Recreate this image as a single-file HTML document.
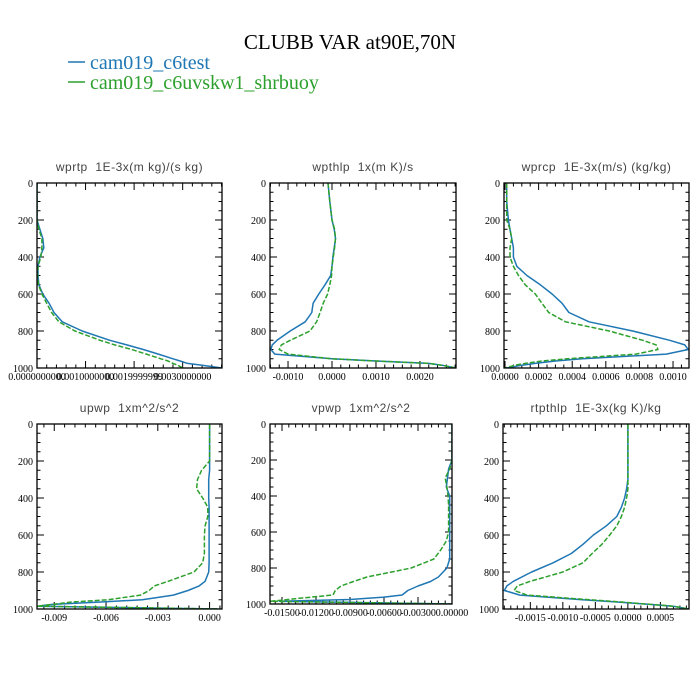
<!DOCTYPE html>
<html><head><meta charset="utf-8"><style>
body{margin:0;background:#fff}
svg{display:block}
.pt{font-family:"Liberation Sans",sans-serif;font-size:12px;fill:#444;letter-spacing:0.5px;white-space:pre}
.tl{font-family:"Liberation Serif",serif;font-size:10px;fill:#000}
</style></head><body>
<svg id="chart" width="700" height="700" viewBox="0 0 700 700" xmlns="http://www.w3.org/2000/svg">
<text x="350" y="49" text-anchor="middle" font-family="Liberation Serif,serif" font-size="21">CLUBB VAR at90E,70N</text>
<g>
<line x1="68" y1="62" x2="85" y2="62" stroke="#1f77b4" stroke-width="1.5"/>
<text x="90" y="69" font-family="Liberation Serif,serif" font-size="20" fill="#1f77b4">cam019_c6test</text>
<line x1="68" y1="82" x2="85" y2="82" stroke="#2ca02c" stroke-width="1.5"/>
<text x="90" y="89" font-family="Liberation Serif,serif" font-size="20" fill="#2ca02c">cam019_c6uvskw1_shrbuoy</text>
</g>
</svg>
<script>
const levels=[0,100,200,250,300,350,400,450,500,550,600,650,700,750,800,850,875,900,925,950,962,975,985,1000];
const wprtpBlue=[0,0,0,.06,.12,.14,.06,.02,.02,.04,.12,.25,.35,.52,.93,1.5,1.85,2.19,2.5,2.8,2.95,3.1,3.4,3.81];
const wprtpGreen=[0,0,0,.04,.10,.10,.08,.02,.01,.03,.10,.20,.30,.45,.78,1.3,1.6,1.95,2.25,2.55,2.7,2.8,2.9,3.0];
const wpthlpBlue=[-.09,-.05,0,.05,.08,.05,.02,0,-.03,-.16,-.3,-.43,-.46,-.61,-.95,-1.25,-1.36,-1.39,-1.3,0,1.0,2.2,2.5,2.82];
const wpthlpGreen=[-.09,-.05,0,.06,.08,.06,.03,0,-.01,-.05,-.1,-.2,-.27,-.35,-.5,-.95,-1.15,-1.2,-1.0,0,1.0,2.2,2.5,2.82];
const wprcpBlue=[.01,.01,.02,.03,.04,.05,.05,.07,.13,.21,.28,.34,.38,.5,.76,.98,1.07,1.09,.96,.46,.3,.18,.1,.01];
const wprcpGreen=[.01,.01,.01,.03,.04,.03,.03,.05,.08,.12,.18,.22,.26,.36,.62,.82,.9,.91,.78,.37,.22,.12,.06,0];
const upwpBlue=[0,0,0,0,-.05,-.05,-.05,-.03,-.03,-.03,-.03,-.03,-.03,-.03,-.05,-.26,-.6,-1.25,-2.1,-3.9,-6.3,-9.1,-10,.5];
const upwpGreen=[0,0,0,-.46,-.7,-.75,-.4,-.1,-.1,-.26,-.3,-.3,-.3,-.4,-.9,-2.4,-3.2,-3.5,-4.0,-5.9,-8.0,-9.1,-10,.7];
const vpwpBlue=[0,0,0,-.3,-.4,-.5,-.2,-.2,-.2,-.2,-.2,-.2,-.2,-.2,-.45,-1.2,-1.9,-3.0,-3.9,-4.4,-6.1,-9,-15.2,0];
const vpwpGreen=[0,0,0,-.2,-.6,-.45,-.35,-.3,-.3,-.3,-.3,-.5,-1.0,-1.6,-3.6,-7.5,-8.7,-9.8,-10.3,-10.5,-12.5,-14.5,-16,0];
const rtpthlpBlue=[0,0,0,0,0,-.02,-.05,-.1,-.17,-.33,-.53,-.69,-.87,-1.15,-1.48,-1.76,-1.86,-1.9,-1.66,-.7,-.17,.34,.7,.94];
const rtpthlpGreen=[0,0,0,0,0,0,-.02,-.05,-.1,-.17,-.28,-.4,-.55,-.69,-1.0,-1.5,-1.7,-1.75,-1.55,-.58,-.1,.35,.7,.94];
const yTicks=[0,200,400,600,800,1000];
const p1Ticks=[0,1,2,3], p1Labels=["0.0000000000","0.0010000000","0.0019999999","0.0030000000"];
const p2Ticks=[-1,0,1,2], p2Labels=["-0.0010","0.0000","0.0010","0.0020"];
const p3Ticks=[0,.2,.4,.6,.8,1.0], p3Labels=["0.0000","0.0002","0.0004","0.0006","0.0008","0.0010"];
const p4Ticks=[-9,-6,-3,0], p4Labels=["-0.009","-0.006","-0.003","0.000"];
const p5Ticks=[-15,-12,-9,-6,-3,0], p5Labels=["-0.01500","-0.01200","-0.00900","-0.00600","-0.00300","0.00000"];
const p6Ticks=[-1.5,-1,-.5,0,.5], p6Labels=["-0.0015","-0.0010","-0.0005","0.0000","0.0005"];

const panels=[
 {name:"wprtp",title:"wprtp  1E-3x(m kg)/(s kg)",x:37,y:183,w:185,h:185,xmin:0,xmax:3.81,minor:.2,ticks:p1Ticks,labels:p1Labels,blue:wprtpBlue,green:wprtpGreen},
 {name:"wpthlp",title:"wpthlp  1x(m K)/s",x:270,y:183,w:186,h:185,xmin:-1.41,xmax:2.82,minor:.2,ticks:p2Ticks,labels:p2Labels,blue:wpthlpBlue,green:wpthlpGreen},
 {name:"wprcp",title:"wprcp  1E-3x(m/s) (kg/kg)",x:504,y:183,w:185,h:185,xmin:-0.006,xmax:1.095,minor:.05,ticks:p3Ticks,labels:p3Labels,blue:wprcpBlue,green:wprcpGreen},
 {name:"upwp",title:"upwp  1xm^2/s^2",x:37,y:424,w:185,h:185,xmin:-10.0,xmax:0.72,minor:.6,ticks:p4Ticks,labels:p4Labels,blue:upwpBlue,green:upwpGreen},
 {name:"vpwp",title:"vpwp  1xm^2/s^2",x:270,y:424,w:182,h:180,xmin:-16.06,xmax:0,minor:.6,ticks:p5Ticks,labels:p5Labels,blue:vpwpBlue,green:vpwpGreen},
 {name:"rtpthlp",title:"rtpthlp  1E-3x(kg K)/kg",x:503,y:424,w:186,h:185,xmin:-1.92,xmax:0.94,minor:.1,ticks:p6Ticks,labels:p6Labels,blue:rtpthlpBlue,green:rtpthlpGreen}
];
const NS="http://www.w3.org/2000/svg";
const svg=document.getElementById('chart');
function mk(tag,attrs,parent){const e=document.createElementNS(NS,tag);for(const k in attrs)e.setAttribute(k,attrs[k]);parent.appendChild(e);return e;}
panels.forEach((p,i)=>{
 const g=mk('g',{},svg);
 
 
 const xs=v=>p.x+(v-p.xmin)/(p.xmax-p.xmin)*p.w;
 const ys=v=>p.y+v/1000*p.h;
 const t=mk('text',{x:p.x+p.w/2,y:p.y-12,'text-anchor':'middle',class:'pt'},g);
 
 
 t.textContent=p.title;
 const cp=mk('clipPath',{id:'clip'+i},g);
 mk('rect',{x:p.x,y:p.y,width:p.w,height:p.h},cp);
 let d='';
 for(let v=0;v<=1000;v+=50){const yy=ys(v);const L=(v%200===0)?7:3.5;d+=`M${p.x},${yy}h${L}M${p.x+p.w},${yy}h${-L}`;}
 const nMin=Math.ceil(p.xmin/p.minor-1e-6),nMax=Math.floor(p.xmax/p.minor+1e-6);
 for(let k=nMin;k<=nMax;k++){const xx=xs(k*p.minor);d+=`M${xx},${p.y}v3.5M${xx},${p.y+p.h}v-3.5`;}
 p.ticks.forEach(v=>{const xx=xs(v);d+=`M${xx},${p.y}v7M${xx},${p.y+p.h}v-7`;});
 const tk=mk('path',{d:d,stroke:'#000','stroke-width':1,fill:'none'},g);
 
 
 yTicks.forEach(v=>{const l=mk('text',{x:p.x-4,y:ys(v)+4,'text-anchor':'end',class:'tl'},g);
  
  
  l.textContent=v;});
 p.ticks.forEach((v,j)=>{const l=mk('text',{x:xs(v),y:p.y+p.h+12,'text-anchor':'middle',class:'tl'},g);
  
  
  l.textContent=p.labels[j];});
 const cg=mk('g',{'clip-path':`url(#clip${i})`},g);
 const ptsB=levels.map((lv,j)=>xs(p.blue[j]).toFixed(1)+','+ys(lv).toFixed(1)).join(' ');
 const ptsG=levels.map((lv,j)=>xs(p.green[j]).toFixed(1)+','+ys(lv).toFixed(1)).join(' ');
 const lb=mk('polyline',{points:ptsB,fill:'none',stroke:'#1f77b4','stroke-width':1.5,'stroke-linejoin':'round'},cg);
 
 
 const lg=mk('polyline',{points:ptsG,fill:'none',stroke:'#2ca02c','stroke-width':1.5,'stroke-dasharray':'5,2','stroke-linejoin':'round'},cg);
 
 
 const fr=mk('rect',{x:p.x,y:p.y,width:p.w,height:p.h,fill:'none',stroke:'#000','stroke-width':1.3},g);
 
 
});
</script>
</body></html>
